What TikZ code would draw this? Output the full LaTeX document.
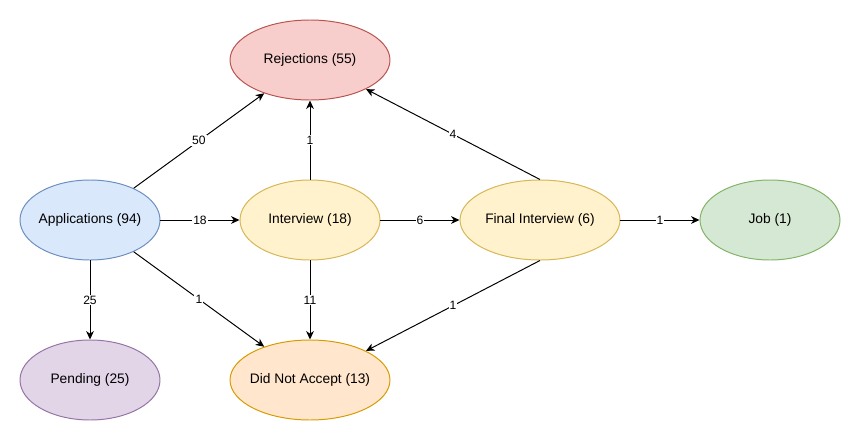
\documentclass[tikz,border=0pt]{standalone}
\usepackage{fontspec}
\setmainfont{Liberation Sans}
\usepackage{tikz}
\usetikzlibrary{shapes, arrows.meta}
\definecolor{rejfill}{HTML}{F8CECC}
\definecolor{rejline}{HTML}{B85450}
\definecolor{appfill}{HTML}{DAE8FC}
\definecolor{appline}{HTML}{6C8EBF}
\definecolor{intfill}{HTML}{FFF2CC}
\definecolor{intline}{HTML}{D6B656}
\definecolor{jobfill}{HTML}{D5E8D4}
\definecolor{jobline}{HTML}{82B366}
\definecolor{penfill}{HTML}{E1D5E7}
\definecolor{penline}{HTML}{9673A6}
\definecolor{dnafill}{HTML}{FFE6CC}
\definecolor{dnaline}{HTML}{D79B00}
\tikzstyle{stage} = [ellipse, draw, line width=0.7pt, minimum width=3.5cm, minimum height=2cm,
                    inner xsep=-1.4cm, inner ysep=0, font=\fontsize{9.8}{11}\selectfont]
\tikzstyle{flow} = [-{Stealth[length=6pt, width=5.5pt, inset=1.8pt]}, line width=0.7pt]
\tikzstyle{count} = [fill=white, inner sep=0.8pt, font=\fontsize{8.6}{10}\selectfont]

\begin{document}
\begin{tikzpicture}
					\useasboundingbox (0, 0) rectangle (21.525, -11.025);

					\node (Rejections) [stage, fill=rejfill, draw=rejline, minimum width=4cm] at (7.75, -1.5) {Rejections (55)};
					\node (Applications) [stage, fill=appfill, draw=appline] at (2.25, -5.5) {Applications (94)};
					\node (Interview) [stage, fill=intfill, draw=intline] at (7.75, -5.5) {Interview (18)};
					\node (Final) [stage, fill=intfill, draw=intline, minimum width=4cm] at (13.5, -5.5) {Final Interview (6)};
					\node (Job) [stage, fill=jobfill, draw=jobline] at (19.25, -5.5) {Job (1)};
					\node (Pending) [stage, fill=penfill, draw=penline] at (2.25, -9.5) {Pending (25)};
					\node (DidNot) [stage, fill=dnafill, draw=dnaline, minimum width=4cm] at (7.75, -9.5) {Did Not Accept (13)};

					% applications
					\draw [flow] (Applications) -- node[count] {50} (Rejections);
					\draw [flow] (Applications) -- node[count] {18} (Interview);
					\draw [flow] (Applications) -- node[count] {25} (Pending);
					\draw [flow] (Applications) -- node[count] {1} (DidNot);

					% interview
					\draw [flow] (Interview) -- node[count] {1} (Rejections);
					\draw [flow] (Interview) -- node[count] {6} (Final);
					\draw [flow] (Interview) -- node[count] {11} (DidNot);

					% final interview
					\draw [flow] (Final.north) -- node[count] {4} (Rejections);
					\draw [flow] (Final) -- node[count] {1} (Job);
					\draw [flow] (Final.south) -- node[count] {1} (DidNot);
				\end{tikzpicture}
\end{document}
